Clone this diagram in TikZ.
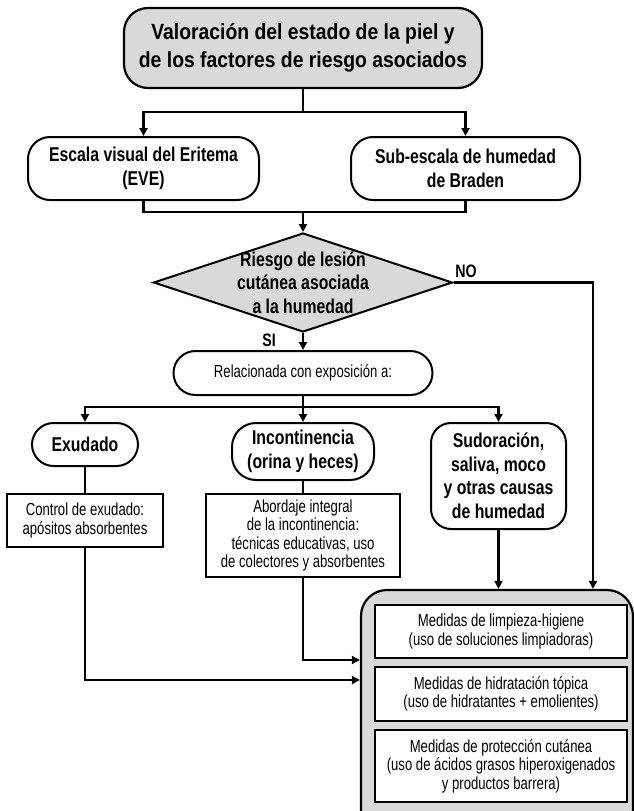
\documentclass[tikz,border=0pt]{standalone}
\usepackage{fontspec}
\setmainfont[FakeStretch=0.75]{Liberation Sans}
\newfontfamily\titlefam[FakeStretch=0.88]{Liberation Sans}
\newfontfamily\boxfam[FakeStretch=0.79]{Liberation Sans}
\usetikzlibrary{arrows.meta,shapes.geometric,calc}
\begin{document}
\begin{tikzpicture}[x=1pt,y=-1pt,
  line width=2.2pt,
  arr/.style={-{Triangle[length=8pt,width=8pt]}},
  graybg/.style={fill=black!15},
  bfb/.style={font=\boxfam\bfseries\fontsize{20}{23.5}\selectfont},
  rbox/.style={draw, line width=2pt, align=center, inner sep=0pt, bfb},
  sqbox/.style={draw, line width=2pt, align=center, inner sep=0pt, font=\fontsize{17.5}{18.5}\selectfont},
  lbl/.style={font=\boxfam\bfseries\fontsize{18}{20}\selectfont, inner sep=0pt}
]
\useasboundingbox (0,0) rectangle (634,811);
\clip (0,0) rectangle (634,811);
% title
\node[rbox, graybg, line width=2.2pt, rounded corners=24pt, minimum width=358pt, minimum height=80pt,
  font=\titlefam\bfseries\fontsize{22}{28}\selectfont] (title) at (303,48)
  {Valoración del estado de la piel y\\de los factores de riesgo asociados};
% scales
\node[rbox, rounded corners=22pt, minimum width=231pt, minimum height=63pt] (eve) at (143.5,168.5)
  {Escala visual del Eritema\\(EVE)};
\node[rbox, rounded corners=22pt, minimum width=229pt, minimum height=63pt] (braden) at (465.5,168.5)
  {Sub-escala de humedad\\de Braden};
% decision
\node[diamond, draw, graybg, line width=2pt, minimum width=299pt, minimum height=99pt, inner sep=0pt] (dia) at (303,282.5) {};
\node[align=center, bfb, inner sep=0pt] (diatext) at (dia.center) {Riesgo de lesión\\cutánea asociada\\a la humedad};
\node[lbl] (no) at (466,271) {NO};
\node[lbl] (si) at (269,340) {SI};
% related
\node[sqbox, rounded corners=22pt, minimum width=259pt, minimum height=44pt] (rel) at (303,373)
  {Relacionada con exposición a:};
% causes
\node[rbox, rounded corners=21.5pt, minimum width=106pt, minimum height=43pt] (exu) at (85,444.5) {Exudado};
\node[rbox, rounded corners=24pt, minimum width=142pt, minimum height=57pt] (inc) at (303,451.5)
  {Incontinencia\\(orina y heces)};
\node[rbox, rounded corners=20pt, minimum width=135pt, minimum height=106pt] (sud) at (498.5,476)
  {Sudoración,\\saliva, moco\\y otras causas\\de humedad};
% actions
\node[sqbox, minimum width=156pt, minimum height=53pt] (ctl) at (85,520.5)
  {Control de exudado:\\apósitos absorbentes};
\node[sqbox, minimum width=194pt, minimum height=83pt] (abo) at (303,535.5)
  {Abordaje integral\\de la incontinencia:\\técnicas educativas, uso\\de colectores y absorbentes};
% container
\node[draw, graybg, line width=2.2pt, rounded corners=26pt, minimum width=272pt, minimum height=250pt, inner sep=0pt] (cont) at (497,715) {};
\node[sqbox, fill=white, minimum width=252pt, minimum height=53pt] (m1) at (501,631.5)
  {Medidas de limpieza-higiene\\(uso de soluciones limpiadoras)};
\node[sqbox, fill=white, minimum width=252pt, minimum height=54pt] (m2) at (501,694)
  {Medidas de hidratación tópica\\(uso de hidratantes + emolientes)};
\node[sqbox, fill=white, minimum width=252pt, minimum height=72pt] (m3) at (501,766)
  {Medidas de protección cutánea\\(uso de ácidos grasos hiperoxigenados\\y productos barrera)};
% connectors
\coordinate (j1) at (303,112);
\coordinate (j2) at (303,212);
\coordinate (j3) at (303,407);
\draw (title.south) -- (j1);
\draw[arr] (j1) -| (eve.north);
\draw[arr] (j1) -| (braden.north);
\draw (eve.south) |- (j2);
\draw (braden.south) |- (j2);
\draw[arr] (j2) -- (dia.north);
\draw[arr] (dia.south) -- (rel.north);
\draw[arr] (dia.east) -| (cont.north -| 593,0);
\draw (rel.south) -- (j3);
\draw[arr] (j3) -| (exu.north);
\draw[arr] (j3) -- (inc.north);
\draw[arr] (j3) -| (sud.north);
\draw (exu.south) -- (ctl.north);
\draw (inc.south) -- (abo.north);
\draw[arr] (sud.south) -- (sud.south |- cont.north);
\draw[arr] (abo.south) |- (cont.west |- 0,660);
\draw[arr] (ctl.south) |- (cont.west |- 0,680);
\end{tikzpicture}
\end{document}
